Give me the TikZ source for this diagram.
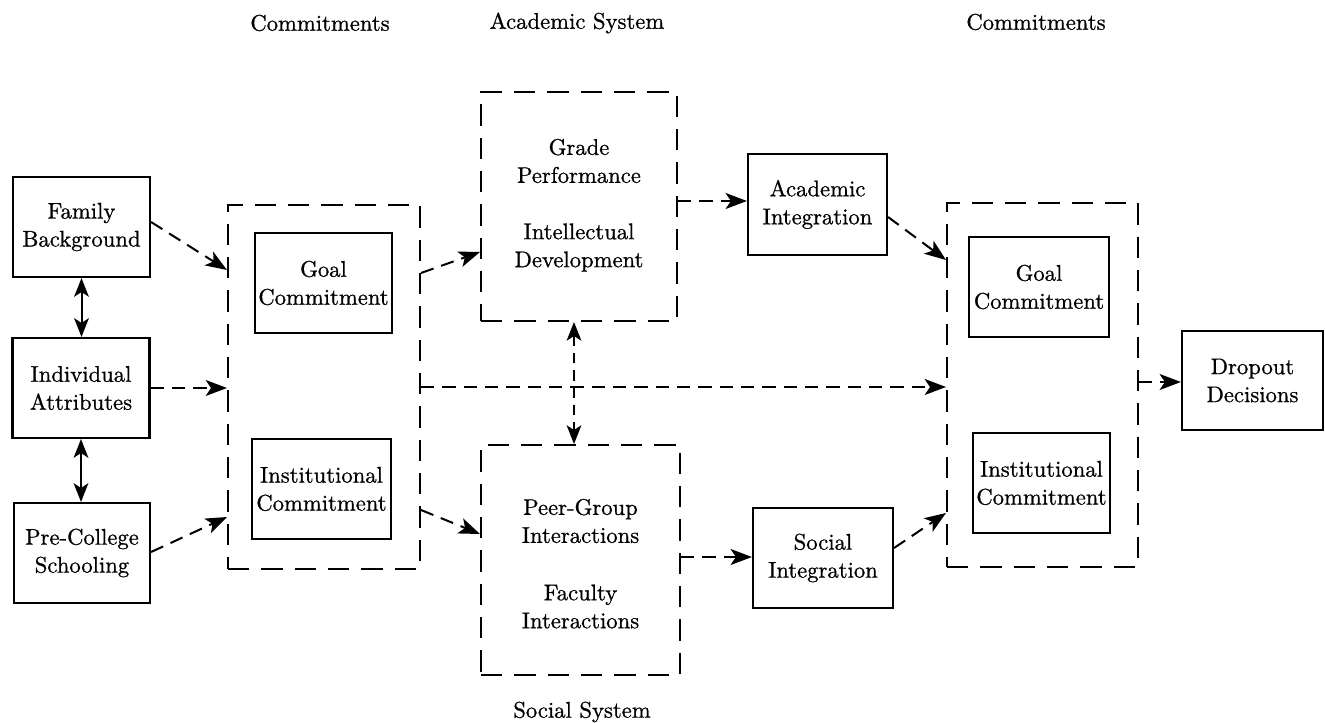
\documentclass[tikz,border=0pt]{standalone}
\usepackage{fontspec}
\setmainfont{lmroman10-regular.otf}[FakeBold=0.8]
\usetikzlibrary{arrows.meta,calc}
\begin{document}
\begin{tikzpicture}[x=0.75pt,y=-0.75pt,
  every node/.style={font=\fontsize{17}{21}\selectfont, align=center, inner sep=0pt},
  solidbox/.style 2 args={draw, line width=1.6pt, rectangle, minimum width=#1*0.75pt, minimum height=#2*0.75pt},
  dashbox/.style 2 args={draw, line width=1.5pt, dash pattern=on 16pt off 9pt, rectangle, minimum width=#1*0.75pt, minimum height=#2*0.75pt},
  conn/.style={line width=1.5pt, dash pattern=on 10pt off 6pt, -{Stealth[length=16pt,width=12pt,inset=4pt]}},
  dblconn/.style={line width=1.5pt, {Stealth[length=14pt,width=11pt,inset=3.5pt]}-{Stealth[length=14pt,width=11pt,inset=3.5pt]}},
  dbldash/.style={dblconn, dash pattern=on 8pt off 5pt}
]
\useasboundingbox (0,0) rectangle (1325,723);

% titles
\node (t1) at (320,23) {Commitments};
\node (t2) at (577,23) {Academic System};
\node (t3) at (1036,22) {Commitments};
\node (t4) at (582,712) {Social System};

% left column
\node[solidbox={137}{100}] (fb) at (81.5,227) {Family\\Background};
\node[solidbox={137}{100}] (ia) at (81,388) {Individual\\Attributes};
\node[solidbox={136}{100}] (pcs) at (82,553) {Pre-College\\Schooling};

% left commitments
\node[dashbox={192}{364}] (lbox) at (324,387) {};
\node[solidbox={137}{100}] (lgoal) at (323.5,283) {Goal\\Commitment};
\node[solidbox={139}{100}] (linst) at (321.5,489) {Institutional\\Commitment};

% academic system
\node[dashbox={196}{229}] (acad) at (579,206.5) {};
\node (acadt1) at (579,161) {Grade\\Performance};
\node (acadt2) at (579,247.5) {Intellectual\\Development};

% social system
\node[dashbox={199}{230}] (soc) at (580.5,560) {};
\node (soct1) at (580.5,521) {Peer-Group\\Interactions};
\node (soct2) at (580.5,606.5) {Faculty\\Interactions};

% integration
\node[solidbox={139}{101}] (ai) at (817.5,204.5) {Academic\\Integration};
\node[solidbox={140}{100}] (si) at (823,558) {Social\\Integration};

% right commitments
\node[dashbox={191}{364}] (rbox) at (1042.5,385) {};
\node[solidbox={140}{100}] (rgoal) at (1039,287) {Goal\\Commitment};
\node[solidbox={137}{100}] (rinst) at (1041.5,483) {Institutional\\Commitment};

% outcome
\node[solidbox={141}{99}] (dd) at (1252.5,380.5) {Dropout\\Decisions};

% attachment points
\coordinate (fbout) at ($(fb.east)+(0,-5)$);
\coordinate (lin1) at ($(lbox.west)+(0,-117)$);
\coordinate (pcsout) at ($(pcs.east)+(0,-1)$);
\coordinate (lin3) at ($(lbox.west)+(0,130)$);
\coordinate (lout1) at ($(lbox.east)+(0,-114)$);
\coordinate (acadin) at ($(acad.west)+(0,45.5)$);
\coordinate (lout3) at ($(lbox.east)+(0,123)$);
\coordinate (socin) at ($(soc.west)+(0,-26)$);
\coordinate (acadbot) at ($(acad.south)+(-5,0)$);
\coordinate (acadout) at ($(acad.east)+(0,-5.5)$);
\coordinate (socout) at ($(soc.east)+(0,-3)$);
\coordinate (aiout) at ($(ai.east)+(0,12.5)$);
\coordinate (rin1) at ($(rbox.west)+(0,-125)$);
\coordinate (siout) at ($(si.east)+(0,-10)$);
\coordinate (rin3) at ($(rbox.west)+(0,128)$);
\coordinate (rout) at ($(rbox.east)+(0,-3)$);

% connectors
\draw[conn] (fbout) -- (lin1);
\draw[conn] (ia.east) -- (ia.east -| lbox.west);
\draw[conn] (pcsout) -- (lin3);
\draw[dblconn] (fb.south) -- (fb.south |- ia.north);
\draw[dblconn] (ia.south) -- (ia.south |- pcs.north);

\draw[conn] (lout1) -- (acadin);
\draw[conn] (lout3) -- (socin);
\draw[conn] (lbox.east) -- (lbox.east -| rbox.west);

\draw[dbldash] (acadbot) -- (acadbot |- soc.north);

\draw[conn] (acadout) -- (acadout -| ai.west);
\draw[conn] (socout) -- (socout -| si.west);

\draw[conn] (aiout) -- (rin1);
\draw[conn] (siout) -- (rin3);

\draw[conn] (rout) -- (rout -| dd.west);
\end{tikzpicture}
\end{document}
